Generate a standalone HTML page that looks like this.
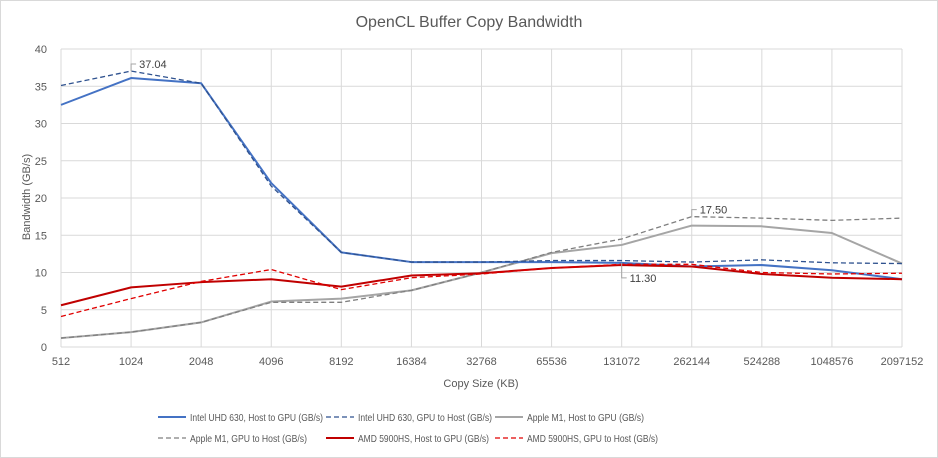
<!DOCTYPE html>
<html><head><meta charset="utf-8"><style>
body{margin:0;background:#fff}
svg{display:block;font-family:"Liberation Sans",sans-serif}
</style></head><body>
<svg id="c" width="938" height="458" viewBox="0 0 938 458">
<rect x="0.5" y="0.5" width="937" height="457" fill="#fff" stroke="#d9d9d9"/>
<text x="469" y="27" text-anchor="middle" font-size="16" fill="#595959">OpenCL Buffer Copy Bandwidth</text>
<g id="grid"></g><g id="axes"></g><g id="series"></g><g id="labels"></g><g id="legend"></g>
<text x="481" y="387" text-anchor="middle" font-size="11" fill="#595959">Copy Size (KB)</text>
<text transform="translate(30,197) rotate(-90)" text-anchor="middle" font-size="11" fill="#595959">Bandwidth (GB/s)</text>
</svg>
<script>
const categories=["512","1024","2048","4096","8192","16384","32768","65536","131072","262144","524288","1048576","2097152"];
const yTicks=[0,5,10,15,20,25,30,35,40];
const intelH2G=[32.5,36.1,35.4,22,12.7,11.4,11.4,11.4,11.3,10.8,11.0,10.3,9.1];
const intelG2H=[35.1,37.04,35.4,21.6,12.7,11.4,11.4,11.6,11.6,11.4,11.7,11.3,11.2];
const appleH2G=[1.2,2.0,3.3,6.1,6.5,7.6,10,12.6,13.7,16.3,16.2,15.3,11.2];
const appleG2H=[1.2,2.0,3.3,6.0,6.0,7.6,10,12.7,14.5,17.5,17.3,17.0,17.3];
const amdH2G=[5.6,8.0,8.7,9.1,8.1,9.6,9.9,10.6,11.0,10.8,9.8,9.3,9.1];
const amdG2H=[4.1,6.5,8.8,10.4,7.7,9.3,9.8,10.6,11.1,11.1,10.0,9.8,9.9];
const seriesNames=["Intel UHD 630, Host to GPU (GB/s)","Intel UHD 630, GPU to Host (GB/s)","Apple M1, Host to GPU (GB/s)","Apple M1, GPU to Host (GB/s)","AMD 5900HS, Host to GPU (GB/s)","AMD 5900HS, GPU to Host (GB/s)"];
const NS="http://www.w3.org/2000/svg";
const X0=61,X1=902,Y0=347,Y1=49,YMAX=40;
const x=i=>X0+i*(X1-X0)/(categories.length-1);
const y=v=>Y0-v/YMAX*(Y0-Y1);
function mk(tag,attrs,parent){const e=document.createElementNS(NS,tag);for(const k in attrs)e.setAttribute(k,attrs[k]);parent.appendChild(e);return e;}
const grid=document.getElementById('grid'),axes=document.getElementById('axes'),ser=document.getElementById('series'),lab=document.getElementById('labels'),leg=document.getElementById('legend');
yTicks.forEach(t=>{
 const l=mk('line',{x1:X0,x2:X1,y1:y(t),y2:y(t),stroke:'#d9d9d9','stroke-width':1},grid);
 
 
 const tx=mk('text',{x:X0-14,y:y(t)+4,'text-anchor':'end','font-size':11,fill:'#595959'},axes);
 tx.textContent=t;
 
 
});
categories.forEach((c,i)=>{
 const l=mk('line',{x1:x(i),x2:x(i),y1:Y1,y2:Y0,stroke:'#d9d9d9','stroke-width':1},grid);
 
 
 const tx=mk('text',{x:x(i),y:Y0+18,'text-anchor':'middle','font-size':11,fill:'#595959'},axes);
 tx.textContent=c;
 
 
});
const styles=[
 {d:intelH2G,c:'#4472c4',w:2,dash:null,n:'intel-host-to-gpu-line'},
 {d:intelG2H,c:'#2f528f',w:1.3,dash:'5,3',n:'intel-gpu-to-host-line'},
 {d:appleH2G,c:'#a5a5a5',w:2,dash:null,n:'apple-host-to-gpu-line'},
 {d:appleG2H,c:'#7f7f7f',w:1.3,dash:'5,3',n:'apple-gpu-to-host-line'},
 {d:amdH2G,c:'#c00000',w:2,dash:null,n:'amd-host-to-gpu-line'},
 {d:amdG2H,c:'#e00000',w:1.3,dash:'5,3',n:'amd-gpu-to-host-line'}];
[2,3,0,1,4,5].forEach(k=>{
 const s=styles[k];
 const p=mk('polyline',{points:s.d.map((v,i)=>x(i)+','+y(v)).join(' '),fill:'none',stroke:s.c,'stroke-width':s.w,'stroke-linejoin':'round'},ser);
 if(s.dash)p.setAttribute('stroke-dasharray',s.dash);
 
 
});
function label(arr,i,dx,dy,txt){
 const px=x(i),py=y(arr[i]);
 const l=mk('polyline',{points:`${px},${py} ${px},${py+dy} ${px+5},${py+dy}`,fill:'none',stroke:'#a6a6a6','stroke-width':1},lab);
 
 
 const t=mk('text',{x:px+8,y:py+dy+4,'font-size':11,fill:'#404040'},lab);
 t.textContent=txt;
 
 
}
label(intelG2H,1,0,-7,intelG2H[1].toFixed(2));
label(appleG2H,9,0,-7,appleG2H[9].toFixed(2));
label(intelH2G,8,0,15,intelH2G[8].toFixed(2));
const legPos=[[158,417],[326,417],[495,417],[158,438],[326,438],[495,438]];
const legW=[133,134,117,117,131,131];
styles.forEach((s,k)=>{
 const [lx,ly]=legPos[k];
 const l=mk('line',{x1:lx,x2:lx+28,y1:ly,y2:ly,stroke:s.c,'stroke-width':s.w},leg);
 if(s.dash)l.setAttribute('stroke-dasharray','5,3');
 
 
 const t=mk('text',{x:lx+32,y:ly+4,'font-size':10.5,fill:'#595959',textLength:legW[k],lengthAdjust:'spacingAndGlyphs'},leg);
 t.textContent=seriesNames[k];
 
 
});
</script>
</body></html>
